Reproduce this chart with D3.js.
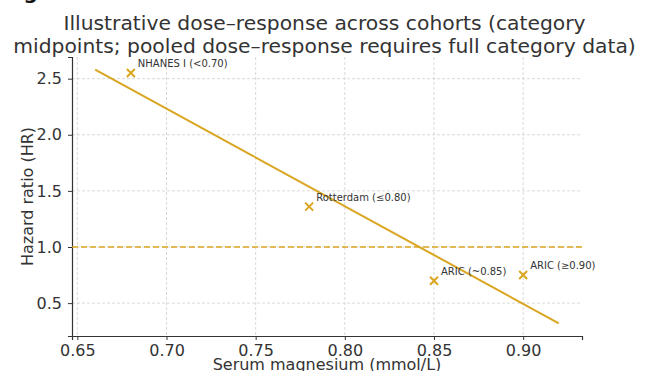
<!DOCTYPE html>
<html>
<head>
<meta charset="utf-8">
<script src="https://cdn.jsdelivr.net/npm/d3@7"></script>
<style>
  html, body { margin: 0; padding: 0; background: #fff; }
  svg { display: block; font-family: "DejaVu Sans", sans-serif; }
</style>
</head>
<body>
<div id="chart"></div>
<script>
// cohort points (category midpoints)
const cohortLabels = ['NHANES I (<0.70)', 'Rotterdam (\u22640.80)', 'ARIC (~0.85)', 'ARIC (\u22650.90)'];
const magnesium = [0.68, 0.78, 0.85, 0.90];
const hazardRatio = [2.55, 1.36, 0.70, 0.75];

// fitted trend line endpoints
const fitX = [0.66, 0.92];
const fitY = [2.58, 0.32];

const xTicks = [0.65, 0.70, 0.75, 0.80, 0.85, 0.90];
const yTicks = [0.5, 1.0, 1.5, 2.0, 2.5];
const refHR = 1.0;

const width = 647, height = 371;
const margins = { top: 57, right: 65, bottom: 35, left: 72 };
const innerW = width - margins.left - margins.right;
const innerH = height - margins.top - margins.bottom;
const gold = '#daa520';
const textColor = '#333';

const svg = d3.select('#chart').append('svg')
  .attr('width', width)
  .attr('height', height);

// cut-off figure caption at the very top
svg.append('text')
  .attr('x', 3).attr('y', -1)
  .attr('font-size', 20).attr('font-weight', 'bold')
  .attr('fill', '#111')
  .text('Fig. 2');

// title
const title = svg.append('text')
  .attr('text-anchor', 'middle')
  .attr('font-size', 20.3)
  .attr('fill', textColor);
title.append('tspan').attr('x', width / 2 + 1).attr('y', 30)
  .text('Illustrative dose\u2013response across cohorts (category');
title.append('tspan').attr('x', width / 2 + 1).attr('y', 53)
  .text('midpoints; pooled dose\u2013response requires full category data)');

const g = svg.append('g')
  .attr('transform', `translate(${margins.left},${margins.top})`);

const x = d3.scaleLinear().domain([0.647, 0.933]).range([0, innerW]);
const y = d3.scaleLinear().domain([0.207, 2.693]).range([innerH, 0]);

// grid
g.append('g').selectAll('line').data(xTicks).enter().append('line')
  .attr('x1', d => x(d)).attr('x2', d => x(d))
  .attr('y1', 0).attr('y2', innerH)
  .attr('stroke', '#cfcfcf').attr('stroke-width', 0.8)
  .attr('stroke-dasharray', '3,2');
g.append('g').selectAll('line').data(yTicks).enter().append('line')
  .attr('x1', 0).attr('x2', innerW)
  .attr('y1', d => y(d)).attr('y2', d => y(d))
  .attr('stroke', '#cfcfcf').attr('stroke-width', 0.8)
  .attr('stroke-dasharray', '3,2');

// axes
const xAxis = g.append('g')
  .attr('transform', `translate(0,${innerH})`)
  .call(d3.axisBottom(x).tickValues(xTicks).tickFormat(d3.format('.2f')).tickSizeOuter(0).tickSize(4).tickPadding(5));
const yAxis = g.append('g')
  .call(d3.axisLeft(y).tickValues(yTicks).tickFormat(d3.format('.1f')).tickSizeOuter(0).tickSize(4).tickPadding(6));
[xAxis, yAxis].forEach(a => {
  a.selectAll('text').attr('font-size', 16).attr('fill', textColor)
    .attr('font-family', '"DejaVu Sans", sans-serif');
  a.selectAll('line').attr('stroke', '#333');
  a.select('.domain').attr('stroke', '#333').attr('stroke-width', 1.2);
});

// reference line at HR = 1
g.append('line')
  .attr('x1', 0).attr('x2', innerW)
  .attr('y1', y(refHR)).attr('y2', y(refHR))
  .attr('stroke', gold).attr('stroke-width', 1.5)
  .attr('stroke-dasharray', '6,3');

// trend line
g.append('path')
  .datum(d3.zip(fitX, fitY))
  .attr('fill', 'none')
  .attr('stroke', gold).attr('stroke-width', 2)
  .attr('d', d3.line().x(d => x(d[0])).y(d => y(d[1])));

// markers
const pts = g.append('g').selectAll('g').data(d3.range(magnesium.length)).enter().append('g')
  .attr('transform', i => `translate(${x(magnesium[i])},${y(hazardRatio[i])})`);
const s = 4;
pts.append('path')
  .attr('d', `M${-s},${-s}L${s},${s}M${-s},${s}L${s},${-s}`)
  .attr('stroke', gold).attr('stroke-width', 2).attr('fill', 'none');
pts.append('text')
  .attr('x', 7).attr('y', -6)
  .attr('font-size', 10).attr('fill', textColor)
  .text(i => cohortLabels[i]);

// axis labels
svg.append('text')
  .attr('x', margins.left + innerW / 2).attr('y', 370)
  .attr('text-anchor', 'middle').attr('font-size', 16).attr('fill', textColor)
  .text('Serum magnesium (mmol/L)');
svg.append('text')
  .attr('transform', `translate(33,${margins.top + innerH / 2}) rotate(-90)`)
  .attr('text-anchor', 'middle').attr('font-size', 16).attr('fill', textColor)
  .text('Hazard ratio (HR)');
</script>
</body>
</html>
